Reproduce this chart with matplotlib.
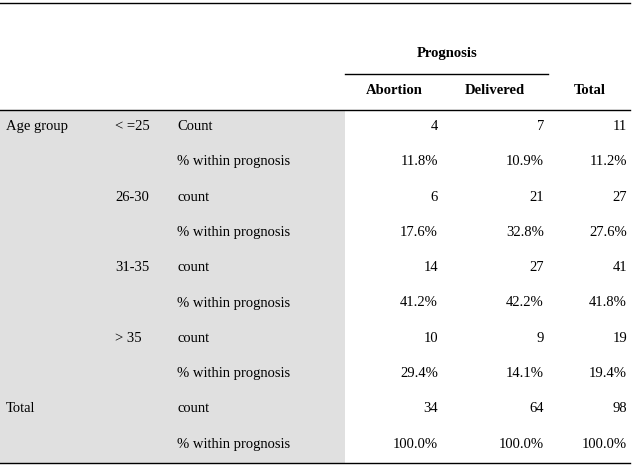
import matplotlib
matplotlib.use("Agg")
import matplotlib.pyplot as plt

age_groups = ["Age group", "", "", "", "", "", "", "", "Total", ""]
subgroups = ["< =25", "", "26-30", "", "31-35", "", "> 35", "", "", ""]
measures = ["Count", "% within prognosis", "count", "% within prognosis",
            "count", "% within prognosis", "count", "% within prognosis",
            "count", "% within prognosis"]
abortion = ["4", "11.8%", "6", "17.6%", "14", "41.2%", "10", "29.4%", "34", "100.0%"]
delivered = ["7", "10.9%", "21", "32.8%", "27", "42.2%", "9", "14.1%", "64", "100.0%"]
total = ["11", "11.2%", "27", "27.6%", "41", "41.8%", "19", "19.4%", "98", "100.0%"]
col_headers = ["Abortion", "Delivered", "Total"]
group_header = "Prognosis"

W, H = 632, 469
fig = plt.figure(figsize=(W / 100, H / 100), dpi=100)
ax = fig.add_axes([0, 0, 1, 1])
ax.set_xlim(0, W)
ax.set_ylim(H, 0)
ax.axis("off")

font = dict(family="Liberation Serif", fontsize=10.5, color="black")
bold = dict(font, fontweight="bold")

# gray stub background
ax.add_patch(plt.Rectangle((0, 110.5), 345, 352.5, facecolor="#e0e0e0", edgecolor="none", zorder=0))

# rules
ax.plot([0, 630], [3, 3], color="black", lw=1.0)
ax.plot([345, 548], [74, 74], color="black", lw=1.0)
ax.plot([0, 630], [110, 110], color="black", lw=1.0)
ax.plot([0, 630], [463.5, 463.5], color="black", lw=1.0)

ax.text(447, 54, group_header, ha="center", va="center", **bold)
for x, h in zip([394, 495, 590], col_headers):
    ax.text(x, 90, h, ha="center", va="center", **bold)

row0, dy = 126.5, 35.3
for i in range(len(measures)):
    y = row0 + i * dy
    ax.text(6, y, age_groups[i], ha="left", va="center", **font)
    ax.text(115, y, subgroups[i], ha="left", va="center", **font)
    ax.text(177, y, measures[i], ha="left", va="center", **font)
    ax.text(438, y, abortion[i], ha="right", va="center", **font)
    ax.text(544, y, delivered[i], ha="right", va="center", **font)
    ax.text(627, y, total[i], ha="right", va="center", **font)

fig.savefig("out.png", dpi=100)
